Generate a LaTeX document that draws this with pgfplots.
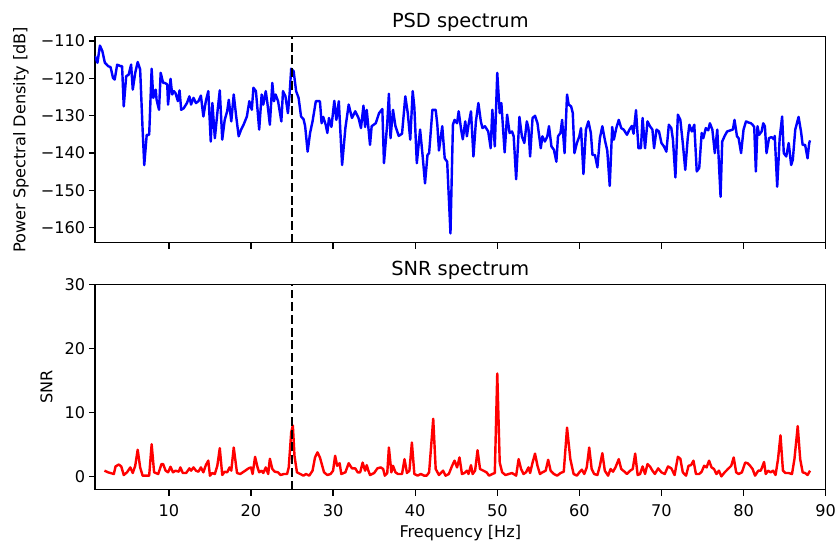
\documentclass[border=0pt]{standalone}
\usepackage{fontspec}
\setmainfont{DejaVu Sans}
\usepackage{pgfplots}
\pgfplotsset{compat=1.18}
\begin{document}
\begin{tikzpicture}
\useasboundingbox (-58.9pt,-186.2pt) rectangle (458.8pt,150.5pt);
\pgfplotsset{
 mystyle/.style={
  scale only axis, width=453pt,
  xmin=1, xmax=90,
  axis line style={line width=0.8pt},
  tick align=outside, xtick pos=left, ytick pos=left,
  major tick length=3.8pt,
  every tick/.style={black, line width=0.8pt},
  tick label style={font=\fontsize{10}{12}\selectfont},
  every x tick label/.append style={yshift=-2pt},
  every y tick label/.append style={xshift=1.2pt},
  label style={font=\fontsize{10}{12}\selectfont},
  title style={font=\fontsize{12}{14}\selectfont, at={(axis description cs:0.5,1)}, anchor=base, yshift=-0.4pt},
  /pgf/number format/assume math mode=true,
  xtick={10,20,...,90},
  clip=true,
 }
}
\begin{axis}[mystyle, at={(0,0)}, anchor=south west, height=127.8pt, title={PSD spectrum},
  ymin=-164, ymax=-108.8, ytick={-160,-150,-140,-130,-120,-110},
  yticklabels={−160,−150,−140,−130,−120,−110}, xticklabels={},
  ylabel={Power Spectral Density [dB]},
  ylabel style={at={(axis description cs:-0.1013,0.5)}, anchor=center}]
\addplot[blue, line width=1.5pt, line join=round] coordinates {
(1.0,-114)(1.3,-115.8)(1.6,-111.2)(1.9,-112.7)(2.2,-115.8)(2.6,-116.7)(2.9,-117)(3.2,-119.9)(3.4,-120.3)(3.7,-116.3)(4.1,-116.7)(4.3,-116.7)(4.5,-127.5)(4.8,-119.4)(5.1,-119)(5.4,-116.3)(5.6,-123)(5.9,-118.5)(6.2,-115.6)(6.5,-117.6)(6.8,-133.7)(7.0,-143.2)(7.3,-135.1)(7.6,-135.1)(7.9,-117.4)(8.1,-125.2)(8.4,-123)(8.5,-125.7)(8.8,-128.4)(9.0,-118.5)(9.3,-121.2)(9.5,-121.2)(9.8,-121.6)(9.9,-127)(10.2,-120.1)(10.4,-124.3)(10.6,-123.4)(10.8,-123.9)(11.1,-126.1)(11.3,-123.2)(11.5,-128.4)(11.8,-128)(12.2,-126.6)(12.5,-124.8)(12.7,-127)(13.0,-125.2)(13.3,-126.6)(13.6,-126.1)(13.9,-124.6)(14.2,-130.2)(14.5,-126.1)(14.8,-123.4)(15.1,-136.9)(15.3,-126.6)(15.6,-136)(15.9,-129.3)(16.2,-123.2)(16.5,-136.4)(16.8,-131.1)(17.1,-128.8)(17.3,-125.7)(17.6,-131.5)(17.9,-124.3)(18.2,-130.2)(18.5,-135.5)(18.8,-133.7)(19.1,-132.4)(19.5,-130.2)(19.8,-126.1)(20.1,-128.4)(20.3,-122.5)(20.6,-123.4)(20.8,-128.4)(21.0,-133.7)(21.3,-124.3)(21.5,-127)(21.8,-123.4)(22.0,-126.6)(22.3,-132.4)(22.6,-121.2)(22.8,-126.1)(23.0,-124.3)(23.3,-126.1)(23.7,-131.5)(23.9,-123.4)(24.2,-124.8)(24.5,-129.3)(24.7,-124.3)(24.9,-117.4)(25.2,-118.1)(25.5,-123.4)(25.8,-125.2)(26.1,-130.2)(26.4,-130.9)(26.6,-132.8)(26.9,-139.6)(27.2,-134.6)(27.5,-131.5)(27.9,-126.1)(28.4,-126.1)(28.6,-132)(28.8,-130.3)(29.1,-132.4)(29.3,-134.6)(29.5,-130.6)(29.8,-133)(30.15,-126)(30.4,-131.1)(30.7,-126.1)(31.1,-143.2)(31.5,-133.3)(31.9,-127)(32.3,-130.6)(32.7,-128.8)(33.1,-130.6)(33.4,-133.3)(33.7,-127.3)(33.9,-133)(34.1,-128.4)(34.5,-137.8)(34.7,-132.8)(35.2,-132)(35.6,-129.3)(36.0,-128.2)(36.2,-142.7)(36.6,-132)(36.8,-124.1)(37.0,-136)(37.3,-128.4)(37.6,-132.8)(38.0,-135.4)(38.4,-134.8)(38.8,-124.8)(39.1,-129.3)(39.4,-136.4)(39.7,-123.4)(39.9,-127.7)(40.2,-142.7)(40.6,-133.7)(40.9,-140.5)(41.2,-148.1)(41.5,-140.5)(41.7,-140)(42.1,-128.4)(42.5,-128.4)(42.7,-132.4)(42.9,-139.3)(43.3,-132.8)(43.6,-141.4)(43.9,-142.3)(44.3,-161.5)(44.6,-132.4)(44.8,-131.1)(45.1,-132)(45.3,-128.8)(45.6,-133.7)(45.8,-136.3)(46.1,-131.5)(46.3,-135.5)(46.5,-132.4)(46.8,-128.8)(47.1,-140.9)(47.4,-131.5)(47.7,-126.6)(48.0,-131.5)(48.2,-133.3)(48.5,-132.8)(48.9,-134.2)(49.2,-138.7)(49.4,-128.4)(49.7,-138.2)(50.0,-118.5)(50.3,-129.3)(50.5,-126.6)(50.9,-139.8)(51.2,-129.7)(51.5,-134.6)(51.8,-134.2)(52.0,-135.5)(52.3,-147)(52.7,-130.3)(53.0,-135.5)(53.3,-137.3)(53.6,-131.5)(53.8,-133.3)(54.0,-140.9)(54.3,-130.6)(54.6,-130)(54.9,-132)(55.3,-138.7)(55.5,-135.5)(55.8,-136.9)(56.1,-135.5)(56.3,-132.8)(56.6,-138.2)(56.9,-139.1)(57.2,-142.3)(57.4,-135.5)(57.7,-134.6)(57.9,-131.1)(58.2,-140)(58.5,-124.3)(58.7,-127)(59.0,-127.5)(59.2,-129.3)(59.4,-140)(59.7,-137.3)(60.0,-135.5)(60.2,-133.3)(60.5,-145.6)(60.8,-133.7)(61.1,-131.5)(61.4,-134.6)(61.6,-140.5)(61.9,-140.5)(62.2,-143.8)(62.5,-136)(62.8,-132.8)(63.1,-136.4)(63.4,-139.3)(63.7,-148.8)(64.0,-133)(64.2,-136.4)(64.5,-133.3)(64.8,-131.1)(65.1,-133.3)(65.4,-133.7)(65.8,-135.1)(66.1,-133.7)(66.4,-132.7)(66.6,-134.8)(66.9,-128.5)(67.2,-138.7)(67.5,-138.7)(67.7,-130.6)(68.0,-138.7)(68.3,-131.5)(68.6,-132.8)(68.9,-133.7)(69.1,-138.7)(69.4,-133.7)(69.7,-134.2)(70.0,-137.3)(70.3,-138.2)(70.6,-139.6)(70.9,-132.4)(71.2,-133.3)(71.4,-136.4)(71.7,-146.5)(72.0,-129.7)(72.3,-131.1)(72.6,-137.3)(72.9,-144.5)(73.2,-136)(73.4,-132.4)(73.7,-134.2)(74.0,-132.4)(74.3,-144.9)(74.6,-144)(74.9,-134.6)(75.1,-136)(75.4,-133.3)(75.7,-133.9)(75.9,-132)(76.2,-133.7)(76.5,-140)(76.8,-133.7)(77.2,-151.7)(77.4,-136.9)(77.7,-135.4)(78.0,-134.2)(78.4,-133.9)(78.7,-133.7)(78.9,-131.1)(79.2,-135.5)(79.4,-136)(79.7,-140)(80.0,-133.7)(80.3,-131.5)(80.6,-131.8)(80.9,-132)(81.1,-132.4)(81.3,-133)(81.5,-144.9)(81.7,-132.8)(81.9,-135.1)(82.2,-134.2)(82.4,-132)(82.6,-132.8)(82.8,-140)(83.1,-136)(83.4,-135.7)(83.7,-136.3)(83.8,-135.4)(84.1,-149)(84.4,-136)(84.7,-130.2)(84.9,-140)(85.2,-140.9)(85.5,-137.3)(85.8,-143.2)(86.0,-141.8)(86.3,-133.7)(86.7,-130.3)(87.0,-134.2)(87.2,-137.8)(87.5,-137.8)(87.8,-141.4)(88.0,-137.3)(88.1,-136.6)
};
\addplot[black, line width=1.5pt, dash pattern=on 5.5pt off 2.4pt] coordinates {(25,-164) (25,-108.8)};
\end{axis}
\begin{axis}[mystyle, at={(0,-153pt)}, anchor=south west, height=127.2pt, title={SNR spectrum},
  ymin=-2, ymax=30, ytick={0,10,20,30},
  xlabel={Frequency [Hz]}, ylabel={SNR},
  ylabel style={at={(axis description cs:-0.0664,0.5)}, anchor=center},
  xlabel style={at={(axis description cs:0.5,0)}, anchor=base, yshift=-29.7pt}]
\addplot[red, line width=1.5pt, line join=round] coordinates {
(2.15,0.94)(2.6,0.68)(3.3,0.42)(3.5,1.6)(3.9,1.9)(4.2,1.6)(4.5,0.26)(4.9,0.68)(5.3,1.45)(5.6,0.57)(5.9,1.7)(6.2,4.2)(6.5,1.45)(6.8,0.16)(7.3,0.16)(7.6,0.16)(7.9,5.07)(8.2,0.68)(8.7,0.42)(9.1,1.97)(9.3,1.97)(9.6,0.94)(9.9,0.68)(10.2,1.55)(10.5,0.68)(10.8,0.94)(11.2,0.78)(11.4,1.45)(11.7,0.57)(12.1,0.57)(12.5,1.3)(12.7,0.94)(13.0,1.45)(13.3,0.94)(13.6,0.78)(13.9,1.45)(14.2,0.68)(14.5,1.8)(14.8,2.5)(15.0,0.16)(15.3,0.57)(15.6,0.42)(15.9,1.7)(16.2,4.45)(16.5,0.26)(16.8,0.78)(17.1,0.68)(17.4,1.45)(17.6,0.94)(17.9,4.55)(18.3,0.57)(18.7,0.42)(19.3,0.94)(19.7,1.3)(20.0,1.45)(20.2,0.42)(20.5,3.1)(20.8,1.45)(21.0,0.68)(21.3,0.94)(21.5,0.57)(21.8,1.45)(22.1,0.42)(22.3,2.8)(22.6,1.2)(22.9,0.78)(23.3,0.68)(23.6,0.26)(24.0,0.42)(24.4,0.42)(24.6,1.45)(24.9,6.9)(25.1,8.0)(25.3,3.26)(25.6,0.68)(26.0,0.42)(26.4,0.16)(26.7,0.42)(27.1,0.16)(27.5,0.94)(27.8,3.0)(28.1,3.8)(28.4,3.0)(28.9,0.68)(29.3,0.26)(29.7,0.42)(30.0,0.94)(30.25,3.26)(30.5,1.7)(30.8,2.1)(31.0,0.42)(31.5,0.68)(31.9,2.1)(32.3,1.3)(32.7,1.3)(33.0,0.68)(33.3,0.68)(33.6,2.2)(33.9,0.94)(34.1,1.8)(34.3,0.94)(34.5,0.26)(35.0,0.57)(35.4,1.3)(35.8,1.45)(36.1,1.2)(36.3,0.16)(36.6,0.57)(36.8,4.55)(37.1,0.68)(37.3,1.7)(37.6,0.68)(37.9,0.42)(38.4,0.42)(38.7,2.74)(39.0,0.57)(39.3,0.94)(39.6,5.33)(39.9,0.42)(40.3,0.16)(40.7,0.42)(41.1,0.16)(41.4,0.16)(41.7,0.68)(42.2,9.04)(42.5,1.2)(42.9,0.26)(43.4,0.94)(43.7,0.16)(44.1,0.42)(44.5,1.7)(44.8,2.5)(45.1,1.45)(45.4,3.0)(45.7,0.42)(46.0,0.57)(46.3,0.94)(46.5,0.42)(46.8,1.8)(47.0,0.42)(47.3,0.94)(47.6,4.13)(47.9,1.2)(48.3,0.94)(48.7,0.68)(49.0,0.16)(49.4,0.42)(49.7,0.57)(50.0,16.1)(50.3,2.2)(50.6,0.68)(51.0,0.26)(51.4,0.42)(51.8,0.57)(52.3,0.16)(52.6,2.74)(52.9,1.2)(53.2,0.42)(53.5,0.68)(53.8,1.45)(54.0,0.57)(54.3,2.2)(54.6,3.6)(54.9,1.7)(55.2,0.42)(55.5,0.68)(55.9,0.94)(56.2,2.64)(56.5,0.94)(56.9,0.42)(57.3,0.16)(57.7,0.57)(58.1,0.78)(58.5,7.65)(58.9,2.74)(59.3,0.42)(59.7,0.16)(60.0,0.68)(60.3,1.1)(60.6,0.42)(60.9,1.45)(61.2,4.55)(61.5,1.2)(61.8,0.42)(62.2,0.26)(62.5,1.7)(62.8,3.67)(63.1,0.94)(63.5,0.16)(63.8,1.2)(64.1,0.78)(64.4,1.45)(64.8,2.74)(65.1,1.2)(65.5,0.78)(65.8,0.42)(66.2,0.94)(66.5,1.2)(66.8,3.6)(67.1,0.26)(67.4,0.42)(67.7,1.6)(68.0,0.42)(68.3,1.97)(68.6,1.6)(68.9,0.94)(69.2,0.42)(69.6,1.3)(70.0,0.68)(70.4,0.42)(70.8,1.6)(71.2,1.3)(71.6,0.26)(72.0,3.1)(72.3,2.8)(72.6,0.68)(73.0,0.16)(73.3,1.7)(73.6,1.8)(73.9,2.5)(74.2,0.42)(74.6,0.42)(74.9,0.78)(75.2,1.7)(75.5,1.45)(75.8,2.5)(76.1,1.45)(76.4,1.2)(76.7,0.42)(77.0,0.94)(77.3,0.05)(77.7,0.68)(78.1,1.2)(78.5,1.7)(78.8,3.0)(79.1,0.68)(79.4,0.42)(79.8,0.68)(80.2,2.2)(80.5,2.1)(80.8,1.7)(81.1,1.2)(81.4,0.16)(81.8,0.94)(82.1,0.94)(82.5,2.3)(82.7,0.42)(83.0,0.94)(83.3,0.68)(83.6,0.94)(83.9,0.26)(84.2,2.74)(84.5,6.46)(84.8,0.94)(85.1,0.57)(85.5,0.57)(85.9,0.42)(86.2,2.74)(86.6,7.9)(86.9,2.74)(87.2,0.68)(87.5,0.57)(87.8,0.26)(88.1,0.94)
};
\addplot[black, line width=1.5pt, dash pattern=on 5.5pt off 2.4pt] coordinates {(25,-2) (25,30)};
\end{axis}
\end{tikzpicture}
\end{document}
